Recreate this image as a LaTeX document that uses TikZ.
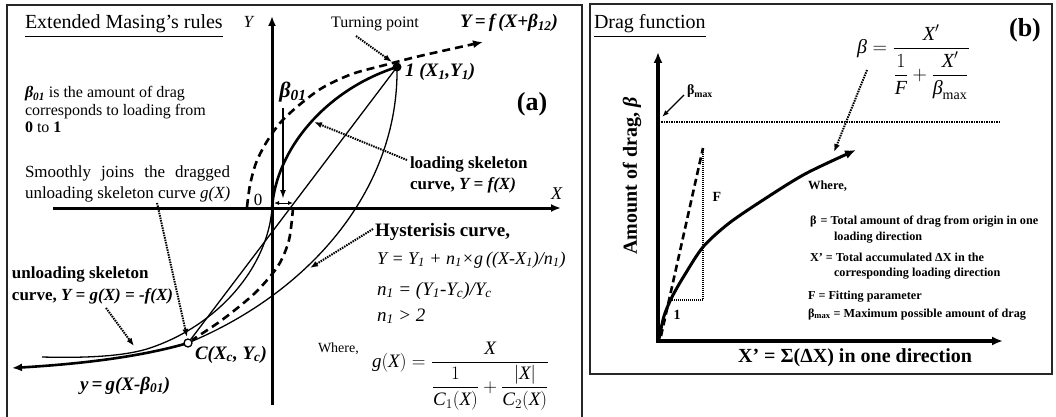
\documentclass[tikz,border=0pt]{standalone}
\usepackage{fix-cm}
\usepackage{amsmath}
\usepackage{fontspec}
\setmainfont{Liberation Serif}
\usetikzlibrary{arrows.meta}
\newcommand{\ti}[1]{\textit{#1}}
\newcommand{\fsz}[2]{\fontsize{#1}{#2}\selectfont}
\begin{document}
\begin{tikzpicture}[x=1pt,y=-1pt,
  every node/.style={inner sep=0pt, outer sep=0pt},
  axis/.style={line width=3pt,-{Latex[length=10pt,width=8pt]}},
  frame/.style={line width=1.2pt, draw=black!85},
  thickcurve/.style={line width=2.6pt},
  thincurve/.style={line width=1.3pt},
  dashcurve/.style={line width=2.6pt, dash pattern=on 8pt off 5pt},
  ann/.style={line width=2pt, dash pattern=on 1.5pt off 1pt, -{Latex[length=8pt,width=6pt]}},
  dotln/.style={line width=1.2pt, dash pattern=on 1pt off 1pt},
]
\useasboundingbox (0,0) rectangle (1056,417);
\fill[white] (0,0) rectangle (1056,417);

% ---------------- panel (a) ----------------
\draw[frame] (7,420) -- (7,5) -- (582,5) -- (582,420);
\coordinate (O) at (272,208);
\coordinate (P1) at (397,67);
\coordinate (C) at (188,343);
\coordinate (Yb) at (272,405); \coordinate (Yt) at (272,16);
\coordinate (Xl) at (53,208); \coordinate (Xr) at (561,208);
\draw[axis] (Yb) -- (Yt);
\draw[axis] (Xl) -- (Xr);

% dashed Y=f(X+beta12)
\draw[dashcurve,-{Latex[length=10pt,width=8pt]}] plot[smooth] coordinates {(247,207) (250,185) (256,163) (266,143) (280,123) (298,106) (322,88) (352,74) (385,65) (420,56) (483,42)};
% dashed dragged unloading
\draw[dashcurve] plot[smooth] coordinates {(293,208) (289,240) (278,266) (255,293) (222,320) (192,340)};
% loading skeleton
\draw[thickcurve] (O) .. controls (276,150) and (325,90) .. (P1);
% hysteresis
\draw[thincurve] (P1) .. controls (399,185) and (315,290) .. (C);
\draw[thincurve] (P1) -- (C);
% unloading skeleton
\draw[thincurve] (O) .. controls (268,266) and (219,326) .. (147,349) .. controls (120,357) and (80,358) .. (42,357);
% dragged unloading thick
\coordinate (Ld) at (12,368);
\draw[thickcurve,-{Latex[length=10pt,width=8pt]}] (C) .. controls (140,357) and (80,364) .. (Ld);

\fill (P1) circle (4.5);
\draw[line width=1.3pt, fill=white] (C) circle (4);

% beta01 arrows
\coordinate (bS) at (283,108); \coordinate (bE) at (283,199);
\draw[line width=1.8pt,-{Latex[length=9pt,width=6pt]}] (bS) -- (bE);
\coordinate (dL) at (274,203); \coordinate (dR) at (293,203);
\draw[line width=0.9pt,{Latex[length=5pt,width=4pt]}-{Latex[length=5pt,width=4pt]}] (dL) -- (dR);

% annotation arrows
\coordinate (tpS) at (356,36); \coordinate (tpE) at (392,62);
\draw[ann] (tpS) -- (tpE);
\coordinate (lsS) at (407,160); \coordinate (lsE) at (314,122);
\draw[ann] (lsS) -- (lsE);
\coordinate (hyS) at (373,229); \coordinate (hyE) at (310,268);
\draw[ann] (hyS) -- (hyE);
\coordinate (sjS) at (157,203); \coordinate (sjE) at (187,337);
\draw[ann] (sjS) -- (sjE);
\coordinate (usS) at (106,308); \coordinate (usE) at (134,346);
\draw[ann] (usS) -- (usE);

% texts (a)
\node[anchor=base west] (ta) at (25,29) {\fsz{20}{24}\underline{Extended Masing’s rules}};
\node (ylab) at (249,22) {\fsz{17}{20}\ti{Y}};
\node (xlab) at (557,194) {\fsz{18}{20}\ti{X}};
\node (zero) at (258,200) {\fsz{17}{20}0};
\node (tp) at (375,24) {\fsz{16}{19}Turning point};
\node[anchor=base west] (yf) at (460,28) {\fsz{19}{22}\textbf{\textit{Y\,=\,f\,(X+β\textsubscript{12})}}};
\node[anchor=base west] (p1lab) at (405,77) {\fsz{19}{22}\textbf{\textit{1 (X\textsubscript{1},Y\textsubscript{1})}}};
\node (alab) at (532,104) {\fsz{26}{30}\textbf{(a)}};
\node (b01) at (293,92) {\fsz{22}{24}\textbf{\textit{β\textsubscript{01}}}};
\node[anchor=base west] (bt1) at (25,98) {\fsz{16}{18}\textbf{\textit{β\textsubscript{01}}} is the amount of drag};
\node[anchor=base west] (bt2) at (25,115) {\fsz{16}{18}corresponds to loading from};
\node[anchor=base west] (bt3) at (25,132) {\fsz{16}{18}\textbf{0} to \textbf{1}};
\node[anchor=base west] (sj1) at (25,177) {\fsz{17}{20}\hbox to 205pt{Smoothly\hfill joins\hfill the\hfill dragged}};
\node[anchor=base west] (sj2) at (25,198) {\fsz{17}{20}unloading skeleton curve \ti{g(X)}};
\node[anchor=base west] (ls1) at (410,168) {\fsz{17}{20}\textbf{loading skeleton}};
\node[anchor=base west] (ls2) at (410,189) {\fsz{17}{20}\textbf{curve, \textit{Y = f(X)}}};
\node[anchor=base west] (hy) at (375,236) {\fsz{19}{22}\textbf{Hysterisis curve,}};
\node[anchor=base west] (eq1) at (377,264) {\fsz{18}{20}\ti{Y = Y\textsubscript{1} + n\textsubscript{1}×g\,((X-X\textsubscript{1})/n\textsubscript{1})}};
\node[anchor=base west] (eq2) at (377,295) {\fsz{19}{21}\ti{n\textsubscript{1} = (Y\textsubscript{1}-Y\textsubscript{c})/Y\textsubscript{c}}};
\node[anchor=base west] (eq3) at (377,321) {\fsz{19}{21}\ti{n\textsubscript{1} > 2}};
\node[anchor=base west] (wa) at (318,352) {\fsz{14}{16}Where,};
\node[anchor=west] (gx) at (372,376) {\fsz{19}{22}$\ti{g}(\ti{X})=\dfrac{\ti{X}}{\dfrac{1}{\ti{C}_1(\ti{X})}+\dfrac{|\ti{X}|}{\ti{C}_2(\ti{X})}}$};
\node[anchor=base west] (us1) at (12,278) {\fsz{17}{20}\textbf{unloading skeleton}};
\node[anchor=base west] (us2) at (12,300) {\fsz{17}{20}\textbf{curve, \textit{Y = g(X) = -f(X)}}};
\node[anchor=base west] (yg) at (80,390) {\fsz{19}{22}\textbf{\textit{y\,=\,g(X-β\textsubscript{01})}}};
\node[anchor=base west] (clab) at (195,359) {\fsz{19}{22}\textbf{\textit{C(X\textsubscript{c}, Y\textsubscript{c})}}};

% ---------------- panel (b) ----------------
\draw[frame] (590,4) rectangle (1052,374);
\coordinate (Ob) at (658,341);
\coordinate (Ybt) at (658,52);
\coordinate (Xbr) at (1003,341);
\coordinate (Oby) at (658,342.5);
\coordinate (Obx) at (656.5,341);
\draw[line width=3.5pt,-{Latex[length=11pt,width=9pt]}] (Oby) -- (Ybt);
\draw[line width=3.5pt,-{Latex[length=11pt,width=9pt]}] (Obx) -- (Xbr);
\coordinate (bmL) at (661,122); \coordinate (bmR) at (1000,122);
\draw[line width=2pt, dash pattern=on 1.5pt off 1pt] (bmL) -- (bmR);
\coordinate (dsA) at (661,336); \coordinate (dsB) at (703,148);
\draw[line width=2.6pt, dash pattern=on 7pt off 4pt] (dsA) -- (dsB);
\coordinate (vB) at (703,300); \coordinate (hL) at (670,300);
\draw[dotln] (dsB) -- (vB) -- (hL);
\draw[line width=3pt,-{Latex[length=11pt,width=9pt]}] plot[smooth] coordinates {(659,339) (664,316) (672,297) (684,276) (703,247) (728,224) (760,202) (805,174) (856,150)};
\coordinate (bxS) at (684,95); \coordinate (bxE) at (662,117);
\draw[line width=1.3pt,-{Latex[length=7pt,width=5pt]}] (bxS) -- (bxE);
\coordinate (fS) at (867,70); \coordinate (fE) at (834,152);
\draw[ann] (fS) -- (fE);

\node[anchor=base west] (tb) at (594,29) {\fsz{20}{24}\underline{Drag function}};
\node (blab) at (1025,30) {\fsz{26}{30}\textbf{(b)}};
\node[anchor=west] (form) at (857,62) {\fsz{20}{24}$\ti{β}=\dfrac{\ti{X}'}{\dfrac{1}{\ti{F}}+\dfrac{\ti{X}'}{\ti{β}_{\text{max}}}}$};
\node[anchor=base west] (bmax) at (687,95) {\fsz{14}{16}\textbf{β\textsubscript{max}}};
\node[rotate=90] (ylb) at (632,176) {\fsz{20}{24}\textbf{Amount of drag, \textit{β}}};
\node (xlb) at (855,358) {\fsz{20}{24}\textbf{X’ = Σ(ΔX) in one direction}};
\node (Flab) at (717,197) {\fsz{14}{16}\textbf{F}};
\node (onelab) at (677,315) {\fsz{14}{16}\textbf{1}};
\node[anchor=base west] (wb) at (808,189) {\fsz{12.5}{15}\textbf{Where,}};
\node[anchor=base west] (l1) at (810,224) {\fsz{12.2}{15}\textbf{β\,\,= Total amount of drag from origin in one}};
\node[anchor=base west] (l2) at (834,240) {\fsz{12.2}{15}\textbf{loading direction}};
\node[anchor=base west] (l3) at (810,261) {\fsz{12.2}{15}\textbf{X’ = Total accumulated ΔX in the}};
\node[anchor=base west] (l4) at (834,276) {\fsz{12.2}{15}\textbf{corresponding loading direction}};
\node[anchor=base west] (l5) at (808,299) {\fsz{12.2}{15}\textbf{F = Fitting parameter}};
\node[anchor=base west] (l6) at (808,317) {\fsz{12.2}{15}\textbf{β\textsubscript{max} = Maximum possible amount of drag}};
\end{tikzpicture}
\end{document}
